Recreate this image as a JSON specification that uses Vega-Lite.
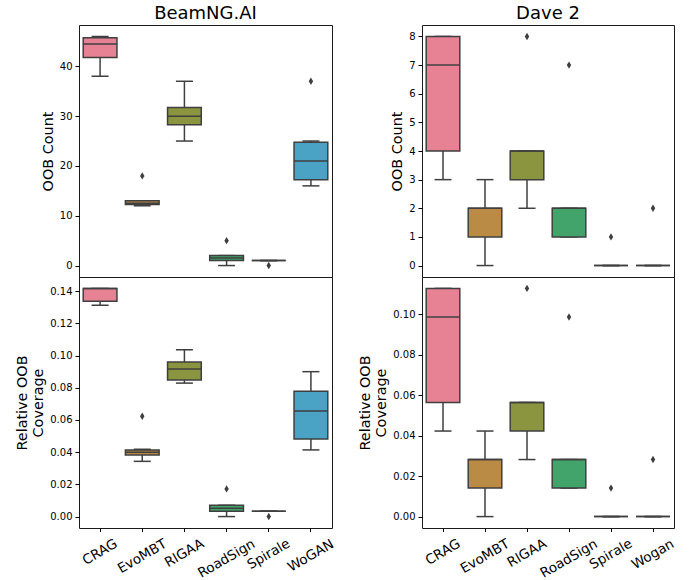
{
  "$schema": "https://vega.github.io/schema/vega-lite/v6.json",
  "background": "white",
  "padding": {"left": 14, "top": 4, "right": 4, "bottom": 0},
  "datasets": {
    "stats": [
      {"sim": "B", "m": "count", "alg": "CRAG", "lo": 38, "q1": 41.75, "med": 44.5, "q3": 45.75, "hi": 46},
      {"sim": "B", "m": "count", "alg": "EvoMBT", "lo": 12, "q1": 12.25, "med": 12.5, "q3": 13, "hi": 13},
      {"sim": "B", "m": "count", "alg": "RIGAA", "lo": 25, "q1": 28.25, "med": 30, "q3": 31.75, "hi": 37},
      {"sim": "B", "m": "count", "alg": "RoadSign", "lo": 0, "q1": 1, "med": 1.5, "q3": 2, "hi": 2},
      {"sim": "B", "m": "count", "alg": "Spirale", "lo": 1, "q1": 1, "med": 1, "q3": 1, "hi": 1},
      {"sim": "B", "m": "count", "alg": "WoGAN", "lo": 16, "q1": 17.25, "med": 21, "q3": 24.75, "hi": 25},
      {"sim": "B", "m": "rel", "alg": "CRAG", "lo": 0.1313, "q1": 0.1338, "med": 0.1417, "q3": 0.1417, "hi": 0.1417},
      {"sim": "B", "m": "rel", "alg": "EvoMBT", "lo": 0.0343, "q1": 0.0383, "med": 0.0399, "q3": 0.0414, "hi": 0.0418},
      {"sim": "B", "m": "rel", "alg": "RIGAA", "lo": 0.0829, "q1": 0.0848, "med": 0.0916, "q3": 0.096, "hi": 0.1036},
      {"sim": "B", "m": "rel", "alg": "RoadSign", "lo": 0, "q1": 0.0033, "med": 0.0052, "q3": 0.007, "hi": 0.007},
      {"sim": "B", "m": "rel", "alg": "Spirale", "lo": 0.0033, "q1": 0.0033, "med": 0.0033, "q3": 0.0033, "hi": 0.0033},
      {"sim": "B", "m": "rel", "alg": "WoGAN", "lo": 0.0414, "q1": 0.0482, "med": 0.0656, "q3": 0.0778, "hi": 0.09},
      {"sim": "D", "m": "count", "alg": "CRAG", "lo": 3, "q1": 4, "med": 7, "q3": 8, "hi": 8},
      {"sim": "D", "m": "count", "alg": "EvoMBT", "lo": 0, "q1": 1, "med": 2, "q3": 2, "hi": 3},
      {"sim": "D", "m": "count", "alg": "RIGAA", "lo": 2, "q1": 3, "med": 4, "q3": 4, "hi": 4},
      {"sim": "D", "m": "count", "alg": "RoadSign", "lo": 1, "q1": 1, "med": 2, "q3": 2, "hi": 2},
      {"sim": "D", "m": "count", "alg": "Spirale", "lo": 0, "q1": 0, "med": 0, "q3": 0, "hi": 0},
      {"sim": "D", "m": "count", "alg": "Wogan", "lo": 0, "q1": 0, "med": 0, "q3": 0, "hi": 0},
      {"sim": "D", "m": "rel", "alg": "CRAG", "lo": 0.04225, "q1": 0.05634, "med": 0.09859, "q3": 0.11268, "hi": 0.11268},
      {"sim": "D", "m": "rel", "alg": "EvoMBT", "lo": 0, "q1": 0.01408, "med": 0.02817, "q3": 0.02817, "hi": 0.04225},
      {"sim": "D", "m": "rel", "alg": "RIGAA", "lo": 0.02817, "q1": 0.04225, "med": 0.05634, "q3": 0.05634, "hi": 0.05634},
      {"sim": "D", "m": "rel", "alg": "RoadSign", "lo": 0.01408, "q1": 0.01408, "med": 0.02817, "q3": 0.02817, "hi": 0.02817},
      {"sim": "D", "m": "rel", "alg": "Spirale", "lo": 0, "q1": 0, "med": 0, "q3": 0, "hi": 0},
      {"sim": "D", "m": "rel", "alg": "Wogan", "lo": 0, "q1": 0, "med": 0, "q3": 0, "hi": 0}
    ],
    "outliers": [
      {"sim": "B", "m": "count", "alg": "EvoMBT", "v": 18},
      {"sim": "B", "m": "count", "alg": "RoadSign", "v": 5},
      {"sim": "B", "m": "count", "alg": "Spirale", "v": 0},
      {"sim": "B", "m": "count", "alg": "WoGAN", "v": 37},
      {"sim": "B", "m": "rel", "alg": "EvoMBT", "v": 0.0623},
      {"sim": "B", "m": "rel", "alg": "RoadSign", "v": 0.0172},
      {"sim": "B", "m": "rel", "alg": "Spirale", "v": 0},
      {"sim": "D", "m": "count", "alg": "RIGAA", "v": 8},
      {"sim": "D", "m": "count", "alg": "RoadSign", "v": 7},
      {"sim": "D", "m": "count", "alg": "Spirale", "v": 1},
      {"sim": "D", "m": "count", "alg": "Wogan", "v": 2},
      {"sim": "D", "m": "rel", "alg": "RIGAA", "v": 0.11268},
      {"sim": "D", "m": "rel", "alg": "RoadSign", "v": 0.09859},
      {"sim": "D", "m": "rel", "alg": "Spirale", "v": 0.01408},
      {"sim": "D", "m": "rel", "alg": "Wogan", "v": 0.02817}
    ]
  },
  "spacing": 20,
  "resolve": {"scale": {"x": "independent", "y": "independent", "color": "shared"}},
  "hconcat": [
    {
      "spacing": 0,
      "bounds": "flush",
      "resolve": {"scale": {"x": "independent", "y": "independent", "color": "shared"}},
      "vconcat": [
        {
          "width": 253, "height": 252,
          "title": {"text": "BeamNG.AI"},
          "data": {"name": "stats"},
          "transform": [{"filter": "datum.sim === 'B' && datum.m === 'count'"}],
          "encoding": {"x": {"field": "alg", "type": "nominal", "sort": null, "scale": {"domain": ["CRAG","EvoMBT","RIGAA","RoadSign","Spirale","WoGAN"], "paddingInner": 0, "paddingOuter": 0}, "axis": null}},
          "layer": [
            {"mark": {"type": "rule", "color": "#3f3f3f", "strokeWidth": 1.5}, "encoding": {"y": {"field": "lo", "type": "quantitative", "title": "OOB Count", "scale": {"domain": [-2.3, 48.3], "nice": false, "zero": false}, "axis": {"values": [0,10,20,30,40], "tickCount": 20, "format": "d", "labelOverlap": false}}, "y2": {"field": "hi"}}},
            {"mark": {"type": "tick", "orient": "horizontal", "size": 17, "thickness": 1.5, "color": "#3f3f3f", "opacity": 1}, "encoding": {"y": {"field": "lo", "type": "quantitative", "title": "OOB Count"}}},
            {"mark": {"type": "tick", "orient": "horizontal", "size": 17, "thickness": 1.5, "color": "#3f3f3f", "opacity": 1}, "encoding": {"y": {"field": "hi", "type": "quantitative", "title": "OOB Count"}}},
            {"mark": {"type": "bar", "width": {"band": 0.8}, "stroke": "#3f3f3f", "strokeWidth": 1.5, "opacity": 1}, "encoding": {"y": {"field": "q1", "type": "quantitative", "title": "OOB Count"}, "y2": {"field": "q3"}, "color": {"field": "alg", "type": "nominal", "legend": null}}},
            {"mark": {"type": "tick", "orient": "horizontal", "size": 34, "thickness": 1.5, "color": "#3f3f3f", "opacity": 1}, "encoding": {"y": {"field": "med", "type": "quantitative", "title": "OOB Count"}}},
            {"data": {"name": "outliers"}, "transform": [{"filter": "datum.sim === 'B' && datum.m === 'count'"}], "mark": {"type": "point", "shape": "M0,-1L0.6,0L0,1L-0.6,0Z", "filled": true, "size": 55, "color": "#3f3f3f", "opacity": 1}, "encoding": {"y": {"field": "v", "type": "quantitative", "title": "OOB Count"}}}
          ]
        },
        {
          "width": 253, "height": 251,
          "data": {"name": "stats"},
          "transform": [{"filter": "datum.sim === 'B' && datum.m === 'rel'"}],
          "encoding": {"x": {"field": "alg", "type": "nominal", "sort": null, "scale": {"domain": ["CRAG","EvoMBT","RIGAA","RoadSign","Spirale","WoGAN"], "paddingInner": 0, "paddingOuter": 0}, "axis": {"title": null, "labelAngle": -30, "labelAlign": "center", "labelBaseline": "middle", "labelFontSize": 13.5, "labelOverlap": false, "tickSize": 3.5, "labelPadding": {"condition": [{"test": "datum.value === 'EvoMBT'", "value": 24.5}, {"test": "datum.value === 'RIGAA'", "value": 21.3}, {"test": "datum.value === 'RoadSign'", "value": 26.8}, {"test": "datum.value === 'Spirale'", "value": 22.4}, {"test": "datum.value === 'WoGAN'", "value": 23.8}], "value": 20.3}}}},
          "layer": [
            {"mark": {"type": "rule", "color": "#3f3f3f", "strokeWidth": 1.5}, "encoding": {"y": {"field": "lo", "type": "quantitative", "title": ["Relative OOB", "Coverage"], "scale": {"domain": [-0.0071, 0.1488], "nice": false, "zero": false}, "axis": {"values": [0,0.02,0.04,0.06,0.08,0.1,0.12,0.14], "tickCount": 20, "format": ".2f", "titleLineHeight": 16, "labelOverlap": false}}, "y2": {"field": "hi"}}},
            {"mark": {"type": "tick", "orient": "horizontal", "size": 17, "thickness": 1.5, "color": "#3f3f3f", "opacity": 1}, "encoding": {"y": {"field": "lo", "type": "quantitative", "title": ["Relative OOB", "Coverage"]}}},
            {"mark": {"type": "tick", "orient": "horizontal", "size": 17, "thickness": 1.5, "color": "#3f3f3f", "opacity": 1}, "encoding": {"y": {"field": "hi", "type": "quantitative", "title": ["Relative OOB", "Coverage"]}}},
            {"mark": {"type": "bar", "width": {"band": 0.8}, "stroke": "#3f3f3f", "strokeWidth": 1.5, "opacity": 1}, "encoding": {"y": {"field": "q1", "type": "quantitative", "title": ["Relative OOB", "Coverage"]}, "y2": {"field": "q3"}, "color": {"field": "alg", "type": "nominal", "legend": null}}},
            {"mark": {"type": "tick", "orient": "horizontal", "size": 34, "thickness": 1.5, "color": "#3f3f3f", "opacity": 1}, "encoding": {"y": {"field": "med", "type": "quantitative", "title": ["Relative OOB", "Coverage"]}}},
            {"data": {"name": "outliers"}, "transform": [{"filter": "datum.sim === 'B' && datum.m === 'rel'"}], "mark": {"type": "point", "shape": "M0,-1L0.6,0L0,1L-0.6,0Z", "filled": true, "size": 55, "color": "#3f3f3f", "opacity": 1}, "encoding": {"y": {"field": "v", "type": "quantitative", "title": ["Relative OOB", "Coverage"]}}}
          ]
        }
      ]
    },
    {
      "spacing": 0,
      "bounds": "flush",
      "resolve": {"scale": {"x": "independent", "y": "independent", "color": "shared"}},
      "vconcat": [
        {
          "width": 252, "height": 252,
          "title": {"text": "Dave 2"},
          "data": {"name": "stats"},
          "transform": [{"filter": "datum.sim === 'D' && datum.m === 'count'"}],
          "encoding": {"x": {"field": "alg", "type": "nominal", "sort": null, "scale": {"domain": ["CRAG","EvoMBT","RIGAA","RoadSign","Spirale","Wogan"], "paddingInner": 0, "paddingOuter": 0}, "axis": null}},
          "layer": [
            {"mark": {"type": "rule", "color": "#3f3f3f", "strokeWidth": 1.5}, "encoding": {"y": {"field": "lo", "type": "quantitative", "title": "OOB Count", "scale": {"domain": [-0.4, 8.4], "nice": false, "zero": false}, "axis": {"values": [0,1,2,3,4,5,6,7,8], "tickCount": 20, "format": "d", "labelOverlap": false}}, "y2": {"field": "hi"}}},
            {"mark": {"type": "tick", "orient": "horizontal", "size": 17, "thickness": 1.5, "color": "#3f3f3f", "opacity": 1}, "encoding": {"y": {"field": "lo", "type": "quantitative", "title": "OOB Count"}}},
            {"mark": {"type": "tick", "orient": "horizontal", "size": 17, "thickness": 1.5, "color": "#3f3f3f", "opacity": 1}, "encoding": {"y": {"field": "hi", "type": "quantitative", "title": "OOB Count"}}},
            {"mark": {"type": "bar", "width": {"band": 0.8}, "stroke": "#3f3f3f", "strokeWidth": 1.5, "opacity": 1}, "encoding": {"y": {"field": "q1", "type": "quantitative", "title": "OOB Count"}, "y2": {"field": "q3"}, "color": {"field": "alg", "type": "nominal", "legend": null}}},
            {"mark": {"type": "tick", "orient": "horizontal", "size": 34, "thickness": 1.5, "color": "#3f3f3f", "opacity": 1}, "encoding": {"y": {"field": "med", "type": "quantitative", "title": "OOB Count"}}},
            {"data": {"name": "outliers"}, "transform": [{"filter": "datum.sim === 'D' && datum.m === 'count'"}], "mark": {"type": "point", "shape": "M0,-1L0.6,0L0,1L-0.6,0Z", "filled": true, "size": 55, "color": "#3f3f3f", "opacity": 1}, "encoding": {"y": {"field": "v", "type": "quantitative", "title": "OOB Count"}}}
          ]
        },
        {
          "width": 252, "height": 251,
          "data": {"name": "stats"},
          "transform": [{"filter": "datum.sim === 'D' && datum.m === 'rel'"}],
          "encoding": {"x": {"field": "alg", "type": "nominal", "sort": null, "scale": {"domain": ["CRAG","EvoMBT","RIGAA","RoadSign","Spirale","Wogan"], "paddingInner": 0, "paddingOuter": 0}, "axis": {"title": null, "labelAngle": -30, "labelAlign": "center", "labelBaseline": "middle", "labelFontSize": 13.5, "labelOverlap": false, "tickSize": 3.5, "labelPadding": {"condition": [{"test": "datum.value === 'EvoMBT'", "value": 24.5}, {"test": "datum.value === 'RIGAA'", "value": 21.3}, {"test": "datum.value === 'RoadSign'", "value": 26.8}, {"test": "datum.value === 'Spirale'", "value": 22.4}, {"test": "datum.value === 'Wogan'", "value": 22.5}], "value": 20.3}}}},
          "layer": [
            {"mark": {"type": "rule", "color": "#3f3f3f", "strokeWidth": 1.5}, "encoding": {"y": {"field": "lo", "type": "quantitative", "title": ["Relative OOB", "Coverage"], "scale": {"domain": [-0.00563, 0.11831], "nice": false, "zero": false}, "axis": {"values": [0,0.02,0.04,0.06,0.08,0.1], "tickCount": 20, "format": ".2f", "titleLineHeight": 16, "labelOverlap": false}}, "y2": {"field": "hi"}}},
            {"mark": {"type": "tick", "orient": "horizontal", "size": 17, "thickness": 1.5, "color": "#3f3f3f", "opacity": 1}, "encoding": {"y": {"field": "lo", "type": "quantitative", "title": ["Relative OOB", "Coverage"]}}},
            {"mark": {"type": "tick", "orient": "horizontal", "size": 17, "thickness": 1.5, "color": "#3f3f3f", "opacity": 1}, "encoding": {"y": {"field": "hi", "type": "quantitative", "title": ["Relative OOB", "Coverage"]}}},
            {"mark": {"type": "bar", "width": {"band": 0.8}, "stroke": "#3f3f3f", "strokeWidth": 1.5, "opacity": 1}, "encoding": {"y": {"field": "q1", "type": "quantitative", "title": ["Relative OOB", "Coverage"]}, "y2": {"field": "q3"}, "color": {"field": "alg", "type": "nominal", "legend": null}}},
            {"mark": {"type": "tick", "orient": "horizontal", "size": 34, "thickness": 1.5, "color": "#3f3f3f", "opacity": 1}, "encoding": {"y": {"field": "med", "type": "quantitative", "title": ["Relative OOB", "Coverage"]}}},
            {"data": {"name": "outliers"}, "transform": [{"filter": "datum.sim === 'D' && datum.m === 'rel'"}], "mark": {"type": "point", "shape": "M0,-1L0.6,0L0,1L-0.6,0Z", "filled": true, "size": 55, "color": "#3f3f3f", "opacity": 1}, "encoding": {"y": {"field": "v", "type": "quantitative", "title": ["Relative OOB", "Coverage"]}}}
          ]
        }
      ]
    }
  ],
  "config": {
    "view": {"stroke": "#1a1a1a", "strokeWidth": 1},
    "font": "DejaVu Sans",
    "title": {"font": "DejaVu Sans", "fontSize": 18, "fontWeight": "normal", "color": "#000", "offset": 2},
    "axis": {"domain": false, "grid": false, "labelFont": "DejaVu Sans", "titleFont": "DejaVu Sans", "labelColor": "#000", "titleColor": "#000", "tickColor": "#000", "titleFontWeight": "normal", "labelFontSize": 10, "titleFontSize": 14.4, "tickSize": 4, "labelPadding": 3, "titlePadding": 4, "tickWidth": 1},
    "range": {"category": ["#e68294", "#b98b45", "#8b953f", "#42a46b", "#449d97", "#4aa2c4", "#4aa2c4"]},
    "scale": {"bandPaddingInner": 0, "bandPaddingOuter": 0}
  }
}
